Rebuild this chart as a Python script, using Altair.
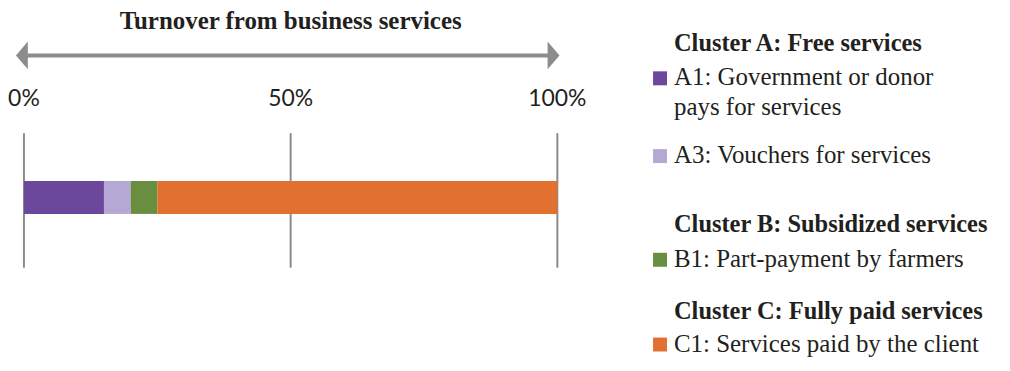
import altair as alt
import pandas as pd

# ---- data ----
categories = ["A1", "A3", "B1", "C1"]
shares = [15, 5, 5, 75]
colors = ["#6b489b", "#b5a8d4", "#6a8e3f", "#e27131"]
tick_values = [0, 50, 100]
tick_labels = ["0%", "50%", "100%"]
title_text = "Turnover from business services"
headings = ["Cluster A: Free services",
            "Cluster B: Subsidized services",
            "Cluster C: Fully paid services"]
item_lines = [["A1: Government or donor", "pays for services"],
              ["A3: Vouchers for services"],
              ["B1: Part-payment by farmers"],
              ["C1: Services paid by the client"]]
arrow_ends = [-1.5, 100.4]

SERIF = "Liberation Serif"
GRAY = "#8c8c8c"
INK = "#231f20"

xscale = alt.Scale(domain=[0, 100], range=[13, 548])

bars_df = pd.DataFrame({"cat": categories, "share": shares, "idx": list(range(len(categories)))})
ticks_df = pd.DataFrame({"v": tick_values, "label": tick_labels})

layers = []

# title
layers.append(
    alt.Chart(pd.DataFrame({"t": [title_text], "v": [50]}))
    .mark_text(font=SERIF, fontSize=25, fontWeight="bold", color=INK, baseline="middle", align="center")
    .encode(x=alt.X("v:Q", scale=xscale, axis=None), y=alt.value(13), text="t:N")
)

# arrow line
arrow_df = pd.DataFrame({"a": [arrow_ends[0] + 0.8], "b": [arrow_ends[1] - 0.8]})
layers.append(
    alt.Chart(arrow_df).mark_rule(color=GRAY, strokeWidth=4)
    .encode(x=alt.X("a:Q", scale=xscale, axis=None), x2="b:Q", y=alt.value(47))
)
left_path = "M 0 0 L 0.85 -1 L 0.85 1 Z"
right_path = "M 0 0 L -0.85 -1 L -0.85 1 Z"
heads_df = pd.DataFrame({"v": arrow_ends, "side": ["L", "R"]})
layers.append(
    alt.Chart(heads_df).mark_point(filled=True, opacity=1, size=784, color=GRAY, strokeWidth=0)
    .encode(x=alt.X("v:Q", scale=xscale, axis=None), y=alt.value(47),
            shape=alt.Shape("side:N", scale=alt.Scale(domain=["L", "R"], range=[left_path, right_path]), legend=None))
)

# tick labels
layers.append(
    alt.Chart(ticks_df).mark_text(font="Lato", fontSize=23, color=INK, baseline="middle", align="center")
    .encode(x=alt.X("v:Q", scale=xscale, axis=None), y=alt.value(91), text="label:N")
)

# grid lines
layers.append(
    alt.Chart(ticks_df).mark_rule(color=GRAY, strokeWidth=2)
    .encode(x=alt.X("v:Q", scale=xscale, axis=None), y=alt.value(125), y2=alt.value(260))
)

# stacked bar
layers.append(
    alt.Chart(bars_df)
    .transform_window(cum="sum(share)", sort=[alt.SortField("idx")], frame=[None, 0])
    .transform_calculate(start="datum.cum - datum.share")
    .mark_rect()
    .encode(x=alt.X("start:Q", scale=xscale, axis=None), x2="cum:Q",
            color=alt.Color("cat:N", scale=alt.Scale(domain=categories, range=colors), legend=None),
            y=alt.value(173), y2=alt.value(206))
)

# custom legend
heading_y = [43, 224, 311]
for h, yy in zip(headings, heading_y):
    layers.append(
        alt.Chart(pd.DataFrame({"t": [h]}))
        .mark_text(font=SERIF, fontSize=24.5, fontWeight="bold", color=INK, align="left", baseline="alphabetic")
        .encode(x=alt.value(665), y=alt.value(yy), text="t:N")
    )

item_y = [[77, 107], [155], [259], [345]]
square_y = [70, 148, 252, 337]
for cat, col, lines, ys, sy in zip(categories, colors, item_lines, item_y, square_y):
    layers.append(
        alt.Chart(pd.DataFrame({"cat": [cat]}))
        .mark_point(shape="square", filled=True, opacity=1, size=196, strokeWidth=0)
        .encode(x=alt.value(651), y=alt.value(sy), color=alt.value(col))
    )
    for ln, yy in zip(lines, ys):
        layers.append(
            alt.Chart(pd.DataFrame({"t": [ln]}))
            .mark_text(font=SERIF, fontSize=25, color=INK, align="left", baseline="alphabetic")
            .encode(x=alt.value(665), y=alt.value(yy), text="t:N")
        )

chart = (
    alt.layer(*layers)
    .properties(width=994, height=355, padding=0, background="white")
    .configure_view(stroke=None)
)

chart.save("out.html", embed_options={"renderer": "svg", "actions": False})
